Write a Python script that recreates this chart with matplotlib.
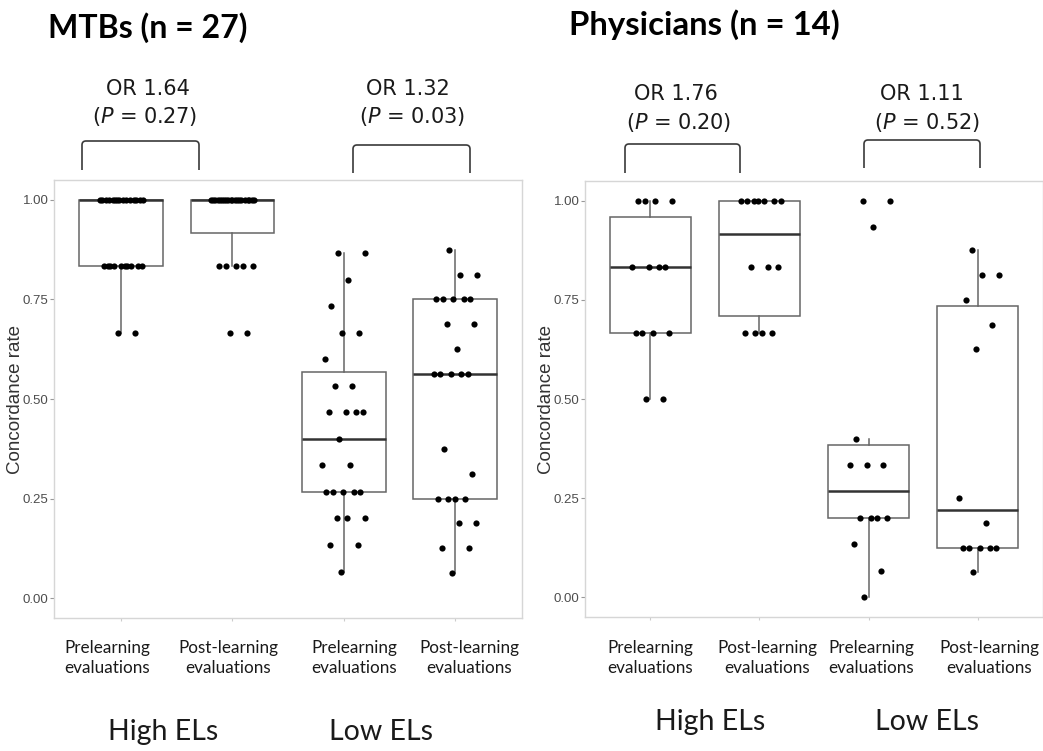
import matplotlib
matplotlib.use("Agg")
import matplotlib.pyplot as plt
import numpy as np
from matplotlib.path import Path
from matplotlib.patches import PathPatch

W, H = 1043, 751

# ---------------- data ----------------
panel_titles = ["MTBs (n = 27)", "Physicians (n = 14)"]
categories = ["Prelearning\nevaluations", "Post-learning\nevaluations",
              "Prelearning\nevaluations", "Post-learning\nevaluations"]
group_labels = ["High ELs", "Low ELs"]
or_labels_mtb = ["OR 1.64", "OR 1.32"]
p_labels_mtb = ["0.27", "0.03"]
or_labels_phys = ["OR 1.76", "OR 1.11"]
p_labels_phys = ["0.20", "0.52"]
y_ticks = [0.00, 0.25, 0.50, 0.75, 1.00]
y_tick_labels = ["0.00", "0.25", "0.50", "0.75", "1.00"]

mtb_high_pre = [1.0, 1.0, 1.0, 1.0, 1.0, 1.0, 1.0, 1.0, 1.0, 1.0, 1.0, 1.0, 1.0, 1.0, 1.0,
                0.8333, 0.8333, 0.8333, 0.8333, 0.8333, 0.8333, 0.8333, 0.8333, 0.8333, 0.8333,
                0.6667, 0.6667]
mtb_high_post = [1.0, 1.0, 1.0, 1.0, 1.0, 1.0, 1.0, 1.0, 1.0, 1.0,
                 1.0, 1.0, 1.0, 1.0, 1.0, 1.0, 1.0, 1.0, 1.0, 1.0,
                 0.8333, 0.8333, 0.8333, 0.8333, 0.8333, 0.6667, 0.6667]
mtb_low_pre = [0.8667, 0.8667, 0.8, 0.7333, 0.6667, 0.6667, 0.6, 0.5333, 0.5333,
               0.4667, 0.4667, 0.4667, 0.4667, 0.4, 0.3333, 0.3333,
               0.2667, 0.2667, 0.2667, 0.2667, 0.2667, 0.2, 0.2, 0.2,
               0.1333, 0.1333, 0.0667]
mtb_low_post = [0.875, 0.8125, 0.8125, 0.75, 0.75, 0.75, 0.75, 0.75, 0.6875, 0.6875,
                0.625, 0.5625, 0.5625, 0.5625, 0.5625, 0.5625, 0.375, 0.3125,
                0.25, 0.25, 0.25, 0.25, 0.1875, 0.1875, 0.125, 0.125, 0.0625]

phys_high_pre = [1.0, 1.0, 1.0, 1.0, 0.8333, 0.8333, 0.8333, 0.8333,
                 0.6667, 0.6667, 0.6667, 0.6667, 0.5, 0.5]
phys_high_post = [1.0, 1.0, 1.0, 1.0, 1.0, 1.0, 1.0, 0.8333, 0.8333, 0.8333,
                  0.6667, 0.6667, 0.6667, 0.6667]
phys_low_pre = [1.0, 1.0, 0.9333, 0.4, 0.3333, 0.3333, 0.3333, 0.2, 0.2, 0.2, 0.2,
                0.1333, 0.0667, 0.0]
phys_low_post = [0.875, 0.8125, 0.8125, 0.75, 0.6875, 0.625, 0.25, 0.1875,
                 0.125, 0.125, 0.125, 0.125, 0.125, 0.0625]

panels = [
    [mtb_high_pre, mtb_high_post, mtb_low_pre, mtb_low_post],
    [phys_high_pre, phys_high_post, phys_low_pre, phys_low_post],
]

# ---------------- layout (pixels) ----------------
axes_px = [(54, 180, 522, 618), (585, 181, 1043, 617)]

fig = plt.figure(figsize=(W / 100, H / 100), dpi=100)


def jitter(n, width=0.2):
    k = np.arange(n)
    return ((k * 0.6180339887 + 0.37) % 1.0 - 0.5) * 2 * width


positions = [1, 2, 3, 4]
for pi, (data, (x0, y0, x1, y1)) in enumerate(zip(panels, axes_px)):
    ax = fig.add_axes([x0 / W, 1 - y1 / H, (x1 - x0) / W, (y1 - y0) / H])
    ax.set_xlim(0.4, 4.6)
    ax.set_ylim(-0.05, 1.05)
    ax.boxplot(data, positions=positions, widths=0.75, showfliers=False,
               whis=1.5, patch_artist=True, showcaps=False,
               boxprops=dict(facecolor="white", edgecolor="#666666", linewidth=1.1),
               medianprops=dict(color="#333333", linewidth=1.8),
               whiskerprops=dict(color="#666666", linewidth=1.1))
    for pos, vals in zip(positions, data):
        xs = pos + jitter(len(vals))
        ax.scatter(xs, vals, s=20, color="black", zorder=5, linewidths=0)
    ax.set_yticks(y_ticks)
    ax.set_yticklabels(y_tick_labels, fontsize=9.5, color="#4d4d4d",
                       family=["Liberation Sans", "DejaVu Sans"])
    ax.set_xticks(positions)
    ax.set_xticklabels([])
    ax.tick_params(axis="y", length=3, color="#999999", pad=1)
    ax.tick_params(axis="x", length=2, color="#cccccc")
    for s in ax.spines.values():
        s.set_color("#d6d6d6")
        s.set_linewidth(1.0)
    ax.set_ylabel("Concordance rate", fontsize=13.5, color="#333333",
                  family=["Liberation Sans", "DejaVu Sans"], labelpad=-1)

# ---------------- overlay annotations ----------------
ov = fig.add_axes([0, 0, 1, 1], facecolor="none")
ov.set_xlim(0, W)
ov.set_ylim(H, 0)
ov.axis("off")

title_font = ["Lato", "DejaVu Sans"]
ov.text(48, 28, panel_titles[0], fontsize=23, fontweight="bold", family=title_font,
        ha="left", va="center")
ov.text(569, 25, panel_titles[1], fontsize=23.7, fontweight="bold", family=title_font,
        ha="left", va="center")


def bracket(xa, xb, ytop, ybot, r=4):
    verts = [(xa, ybot), (xa, ytop + r), (xa, ytop), (xa + r, ytop),
             (xb - r, ytop), (xb, ytop), (xb, ytop + r), (xb, ybot)]
    codes = [Path.MOVETO, Path.LINETO, Path.CURVE3, Path.CURVE3,
             Path.LINETO, Path.CURVE3, Path.CURVE3, Path.LINETO]
    ov.add_patch(PathPatch(Path(verts, codes), fill=False, edgecolor="#3a3a3a", lw=1.2))


bracket(82, 199, 141, 170)
bracket(353, 470, 145, 173)
bracket(625, 740, 144, 173)
bracket(864, 980, 140, 168)

or_font = ["DejaVu Sans"]
or_specs = [
    (or_labels_mtb[0], p_labels_mtb[0], 148, 89, 145, 117),
    (or_labels_mtb[1], p_labels_mtb[1], 408, 89, 412, 117),
    (or_labels_phys[0], p_labels_phys[0], 676, 94, 679, 122),
    (or_labels_phys[1], p_labels_phys[1], 922, 94, 927, 122),
]
for orl, pl, xo, yo, xp, yp in or_specs:
    ov.text(xo, yo, orl, fontsize=15, family=or_font, ha="center", va="center",
            color="#1a1a1a")
    ov.text(xp, yp, "($\\mathit{P}$ = " + pl + ")", fontsize=15, family=or_font,
            ha="center", va="center", color="#1a1a1a")

lab_font = ["Lato", "DejaVu Sans"]
cat_x = [[107, 228, 354, 469], [650, 767, 871, 989]]
for xs in cat_x:
    for x, lab in zip(xs, categories):
        ov.text(x, 658, lab, fontsize=12.3, family=lab_font, ha="center",
                va="center", linespacing=1.3, color="#1a1a1a")

grp_pos = [[(163, 732), (381, 732)], [(710, 722), (927, 722)]]
for gp in grp_pos:
    for (x, y), lab in zip(gp, group_labels):
        ov.text(x, y, lab, fontsize=20.5, family=lab_font, ha="center", va="center",
                color="#1a1a1a")

fig.savefig("out.png", dpi=100)
